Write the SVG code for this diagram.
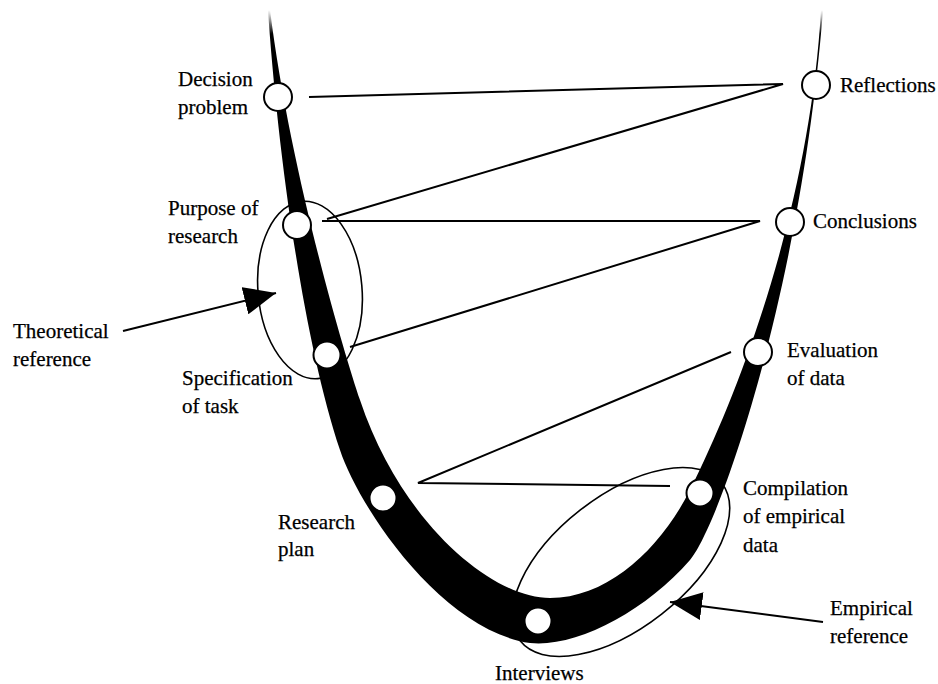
<svg xmlns="http://www.w3.org/2000/svg" width="938" height="684" viewBox="0 0 938 684">
<defs>
<style>
text{font-family:"Liberation Serif","Times New Roman",serif;font-size:21px;fill:#000;stroke:#000;stroke-width:0.25}
.node{fill:#fff;stroke:#000;stroke-width:2}
.conn{fill:none;stroke:#000;stroke-width:2}
.ell{fill:none;stroke:#000;stroke-width:1.6}
.arr{fill:none;stroke:#000;stroke-width:2;marker-end:url(#ah)}
</style>
<marker id="ah" viewBox="0 0 32 28" refX="32" refY="14" markerWidth="32" markerHeight="28" orient="auto" markerUnits="userSpaceOnUse">
<path d="M0,0 L32,14 L0,28 Z" fill="#000"/>
</marker>
<linearGradient id="fade" x1="0" y1="0" x2="0" y2="1">
<stop offset="0" stop-color="#fff" stop-opacity="1"/>
<stop offset="0.3" stop-color="#fff" stop-opacity="1"/>
<stop offset="1" stop-color="#fff" stop-opacity="0"/>
</linearGradient>
</defs>
<rect width="938" height="684" fill="#fff"/>

<g id="band">
<path d="M268,10 C276,130 300,330 340,450 C358,505 440,630 530,643 C575,648 645,612 690,560 C717,529 800,300 823,10 L821,10 C810,200 745,380 690,490 C662,546 610,598 550,598 C490,598 400,520 360,400 C343,350 290,170 270,10 Z" fill="#000"/>
<rect x="250" y="0" width="600" height="34" fill="url(#fade)"/>
</g>

<g id="theoretical-reference">
<ellipse class="ell" cx="310" cy="290" rx="52" ry="89" transform="rotate(-5 310 290)"/>
<text x="13" y="338">Theoretical</text>
<text x="13" y="366">reference</text>
</g>

<g id="empirical-reference">
<ellipse class="ell" cx="621" cy="562" rx="128" ry="66" transform="rotate(-38 621 562)"/>
<text x="830" y="615">Empirical</text>
<text x="830" y="643">reference</text>
</g>

<g id="connectors">
<polyline class="conn" points="309,97 783,84 327,219"/>
<polyline class="conn" points="322,221 760,221 350,347"/>
<polyline class="conn" points="731,352 418,483 670,486"/>
<line class="arr" x1="123" y1="331" x2="276" y2="293"/>
<line class="arr" x1="823" y1="622" x2="670" y2="602"/>
</g>

<g id="decision-problem">
<circle class="node" cx="278" cy="97" r="14"/>
<text x="178" y="86">Decision</text>
<text x="178" y="114">problem</text>
</g>
<g id="purpose-of-research">
<circle class="node" cx="297" cy="225" r="14"/>
<text x="168" y="215">Purpose of</text>
<text x="168" y="243">research</text>
</g>
<g id="specification-of-task">
<circle class="node" cx="327" cy="355" r="13.5"/>
<text x="182" y="385">Specification</text>
<text x="182" y="413">of task</text>
</g>
<g id="research-plan">
<circle class="node" cx="383" cy="498" r="13.5"/>
<text x="278" y="529">Research</text>
<text x="278" y="556">plan</text>
</g>
<g id="interviews">
<circle class="node" cx="538" cy="621" r="13.5"/>
<text x="495" y="680">Interviews</text>
</g>
<g id="compilation-of-empirical-data">
<circle class="node" cx="700" cy="493" r="13.5"/>
<text x="743" y="495">Compilation</text>
<text x="743" y="523">of empirical</text>
<text x="743" y="552">data</text>
</g>
<g id="evaluation-of-data">
<circle class="node" cx="758" cy="352" r="14"/>
<text x="787" y="357">Evaluation</text>
<text x="787" y="385">of data</text>
</g>
<g id="conclusions">
<circle class="node" cx="790" cy="222" r="14"/>
<text x="813" y="228">Conclusions</text>
</g>
<g id="reflections">
<circle class="node" cx="816" cy="85" r="14"/>
<text x="840" y="92">Reflections</text>
</g>
</svg>
